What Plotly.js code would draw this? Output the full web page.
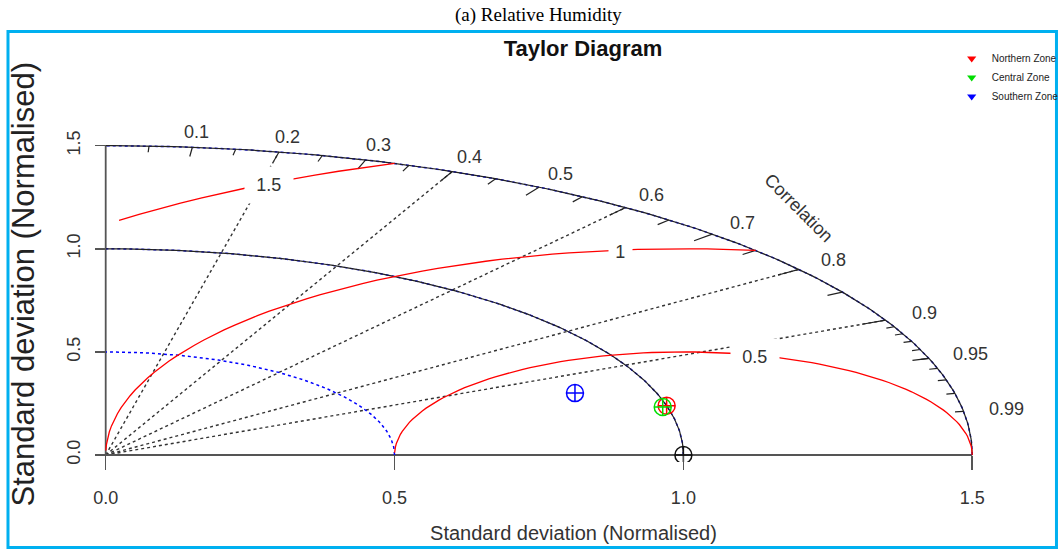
<!DOCTYPE html>
<html><head><meta charset="utf-8">
<script src="https://cdn.plot.ly/plotly-3.0.1.min.js"></script>
<style>html,body{margin:0;padding:0;background:#fff}#chart{width:1061px;height:550px}</style>
</head><body><div id="chart"></div>
<script>
// ---------------- data ----------------
const zoneNames  = ["Northern Zone", "Central Zone", "Southern Zone"];
const zoneColors = ["#ff0000", "#00dd00", "#0000ff"];
const zoneSD     = [1.00, 0.992, 0.866];   // normalised standard deviation
const zoneCorr   = [0.971, 0.972, 0.938];  // correlation with observations
const refSD = 1.0;
const maxSD = 1.5;
const sdTicks = [0, 0.5, 1.0, 1.5];
const sdTickText = ["0.0", "0.5", "1.0", "1.5"];
const sdArcs = [0.5, 1.0, 1.5];
const rmsLevels = [0.5, 1, 1.5];
const rmsLabelIndex = [45, 57, 70];        // position of the label along each contour
const corrLines = [0.2, 0.4, 0.6, 0.8, 0.9];
const corrLabels = [0.1, 0.2, 0.3, 0.4, 0.5, 0.6, 0.7, 0.8, 0.9, 0.95, 0.99];
const corrBigTicks = [0.1, 0.2, 0.3, 0.4, 0.5, 0.6, 0.7, 0.8, 0.9];
const corrMedTicks = [0.05, 0.15, 0.25, 0.35, 0.45, 0.55, 0.65, 0.75, 0.85, 0.95];
const corrSmallTicks = [0.91, 0.92, 0.93, 0.94, 0.95, 0.96, 0.97, 0.98, 0.99];

// ---------------- geometry helpers ----------------
const FONT = "Liberation Sans, Arial, Helvetica, sans-serif";
const polar = (r, c) => [r * c, r * Math.sqrt(Math.max(0, 1 - c * c))];

function quarterArc(r) {
  const xs = [], ys = [];
  for (let i = 0; i <= 180; i++) {
    const t = (Math.PI / 2) * i / 180;
    xs.push(r * Math.cos(t)); ys.push(r * Math.sin(t));
  }
  return {xs, ys};
}
function segs(list, r0, r1) {
  const xs = [], ys = [];
  list.forEach(c => {
    const a = polar(r0, c), b = polar(r1, c);
    xs.push(a[0], b[0], null); ys.push(a[1], b[1], null);
  });
  return {xs, ys};
}
function rmsCurve(g) {
  const phis = [];
  for (let k = 0; k * 0.03 <= Math.PI; k++) phis.push(k * 0.03);
  const X = phis.map(p => refSD + g * Math.cos(p));
  const Y = phis.map(p => g * Math.sin(p));
  let end = X.findIndex(v => v < 0);
  end = end === -1 ? X.length - 1 : end - 1;
  let start = 0;
  X.forEach((v, i) => { if (v * v + Y[i] * Y[i] > maxSD * maxSD) start = i + 1; });
  const xs = [], ys = [];
  if (start > 0) {
    const cp = (maxSD * maxSD - refSD * refSD - g * g) / (2 * refSD * g);
    xs.push(refSD + g * cp); ys.push(g * Math.sqrt(1 - cp * cp));
  }
  for (let i = start; i <= end; i++) { xs.push(X[i]); ys.push(Y[i]); }
  return {xs, ys};
}

const traces = [];
// correlation rays
const rays = {xs: [], ys: []};
corrLines.forEach(c => { const e = polar(maxSD, c); rays.xs.push(0, e[0], null); rays.ys.push(0, e[1], null); });
traces.push({x: rays.xs, y: rays.ys, mode: "lines", line: {color: "#333", width: 1.4, dash: "dot"}, showlegend: false, hoverinfo: "skip"});
// axis lines
traces.push({x: [0, maxSD, null, 0, 0], y: [0, 0, null, 0, maxSD], mode: "lines", line: {color: "#555", width: 1.8}, showlegend: false, hoverinfo: "skip"});
// blue sd arcs
sdArcs.forEach(r => { const a = quarterArc(r);
  traces.push({x: a.xs, y: a.ys, mode: "lines", line: {color: "#0000ff", width: 1.5, dash: "dot"}, showlegend: false, hoverinfo: "skip"}); });
// outer arc and reference sd arc
[maxSD, refSD].forEach(r => { const a = quarterArc(r);
  traces.push({x: a.xs, y: a.ys, mode: "lines", line: {color: "#222", width: 1.2}, showlegend: false, hoverinfo: "skip"}); });
// correlation ticks
const tb = segs(corrBigTicks, maxSD, 0.97 * maxSD), tm = segs(corrMedTicks, maxSD, 0.98 * maxSD), ts = segs(corrSmallTicks, maxSD, 0.99 * maxSD);
traces.push({x: tb.xs.concat(tm.xs, ts.xs), y: tb.ys.concat(tm.ys, ts.ys), mode: "lines", line: {color: "#222", width: 1.2}, showlegend: false, hoverinfo: "skip"});
// centred RMS contours
rmsLevels.forEach(g => { const c = rmsCurve(g);
  traces.push({x: c.xs, y: c.ys, mode: "lines", line: {color: "#ff0000", width: 1.3}, showlegend: false, hoverinfo: "skip"}); });
// reference point
traces.push({x: [refSD], y: [0], mode: "markers", marker: {symbol: "circle-cross-open", size: 17, color: "#111", line: {width: 1.5}}, showlegend: false, hoverinfo: "skip"});
// model points
zoneNames.forEach((n, i) => {
  const p = polar(zoneSD[i], zoneCorr[i]);
  traces.push({x: [p[0]], y: [p[1]], mode: "markers", name: n, cliponaxis: false,
    marker: {symbol: "circle-cross-open", size: 17, color: zoneColors[i], line: {width: 1.5}}, showlegend: false, hoverinfo: "skip"});
});
// legend entries
zoneNames.forEach((n, i) => {
  traces.push({x: [null], y: [null], mode: "markers", name: n,
    marker: {symbol: "triangle-down", size: 8, color: zoneColors[i]}, showlegend: true});
});

// ---------------- annotations ----------------
const ann = [];
corrLabels.forEach(c => { const p = polar(1.05 * maxSD, c);
  ann.push({x: p[0], y: p[1], xref: "x", yref: "y", text: String(c), showarrow: false,
    font: {family: FONT, size: 18, color: "#333"}, xanchor: "center", yanchor: "middle"}); });
ann.push({x: 0.8 * maxSD, y: 0.8 * maxSD, xref: "x", yref: "y", text: "Correlation", showarrow: false, textangle: 45,
  font: {family: FONT, size: 18, color: "#333"}});
rmsLevels.forEach((g, i) => { const phi = (rmsLabelIndex[i] - 1) * 0.03; const lab = String(g);
  ann.push({x: refSD + g * Math.cos(phi), y: g * Math.sin(phi), xref: "x", yref: "y", text: lab, showarrow: false,
    bgcolor: "#ffffff", width: 10 + 12.5 * lab.length, height: 36, borderpad: 0, yshift: -2,
    font: {family: FONT, size: 18, color: "#333"}}); });
ann.push({x: -0.0669, y: 0.4109, xref: "paper", yref: "paper", xanchor: "center", yanchor: "middle",
  text: "Standard deviation (Normalised)", textangle: -90,
  showarrow: false, font: {family: FONT, size: 31, color: "#222"}});
ann.push({x: 0.464, y: 1.034, xref: "paper", yref: "paper", xanchor: "center", yanchor: "middle",
  text: "(a) Relative Humidity", showarrow: false,
  font: {family: "Liberation Serif, Times New Roman, serif", size: 19, color: "#000"}});

const layout = {
  width: 1061, height: 550, autosize: false,
  margin: {l: 88, r: 2, t: 30, b: 88, autoexpand: false},
  paper_bgcolor: "#fff", plot_bgcolor: "#fff",
  hovermode: false,
  title: {text: "<b>Taylor Diagram</b>", x: 0.5098, xanchor: "center", xref: "paper", y: 0.9127, yref: "container", yanchor: "middle",
    font: {family: FONT, size: 22, color: "#111"}},
  xaxis: {range: [-0.03064, 1.65018], anchor: "free", position: 0.016205, automargin: false,
    tickmode: "array", tickvals: sdTicks, ticktext: sdTickText, ticks: "outside", ticklen: 14, tickwidth: 1.5, tickcolor: "#555",
    showgrid: false, zeroline: false, showline: false, ticklabelstandoff: 12,
    tickfont: {family: FONT, size: 18, color: "#333"},
    title: {text: "Standard deviation (Normalised)", font: {family: FONT, size: 20, color: "#333"}, standoff: 19}},
  yaxis: {range: [-0.03395, 2.06111], anchor: "free", position: 0.018229, automargin: false,
    tickmode: "array", tickvals: sdTicks, ticktext: sdTickText, ticks: "outside", ticklen: 11, tickwidth: 1.5, tickcolor: "#555",
    tickangle: -90, showgrid: false, zeroline: false, showline: false, ticklabelstandoff: 8,
    tickfont: {family: FONT, size: 18, color: "#333"}},
  showlegend: true,
  legend: {x: 0.8895, xanchor: "left", y: 0.9675, yanchor: "top", bgcolor: "rgba(0,0,0,0)", borderwidth: 0,
    font: {family: FONT, size: 10, color: "#222"}, itemwidth: 30, tracegroupgap: 0},
  annotations: ann,
  shapes: [{type: "rect", xref: "paper", yref: "paper", x0: -0.0824, x1: 0.9974, y0: -0.1979, y1: 0.9965,
    line: {color: "#00b0f0", width: 3}, fillcolor: "rgba(0,0,0,0)", layer: "above"}]
};
Plotly.newPlot("chart", traces, layout, {displayModeBar: false, staticPlot: true});
</script></body></html>
